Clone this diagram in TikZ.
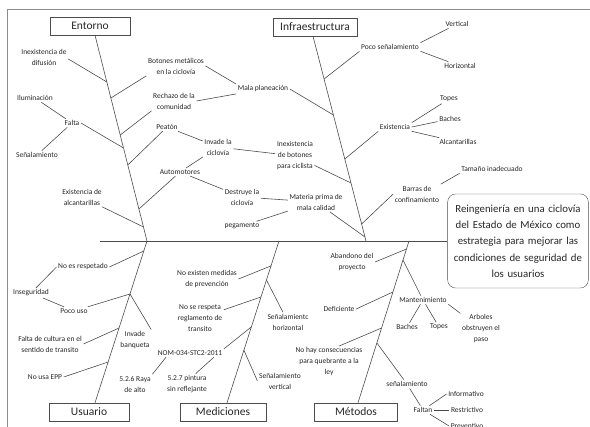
\documentclass[tikz,border=0pt]{standalone}
\usepackage{fontspec}
\setmainfont{Carlito}

\begin{document}
\begin{tikzpicture}[x=1pt, y=-1pt,
    lbl/.style={font=\fontsize{7.5}{11}\selectfont, align=center, inner sep=1.5pt, text=black!85},
    catbox/.style={draw=black!70, font=\fontsize{11.5}{13}\selectfont, minimum width=80pt, minimum height=18pt, inner sep=2pt, text=black!85},
    goal/.style={draw=black!70, rounded corners=8pt, align=center, font=\fontsize{10.8}{16.3}\selectfont, minimum width=140pt, minimum height=94pt, text width=134pt, text=black!85},
    ln/.style={draw=black!70, line width=0.6pt}]
\useasboundingbox (0,0) rectangle (590,427);
\draw[black!45, line width=0.8pt] (7,440) -- (7,9) -- (600,9);

\node[catbox] (entorno) at (90,26) {Entorno};
\node[catbox, minimum width=84pt] (infra) at (315,27) {Infraestructura};
\node[catbox] (usuario) at (89,412) {Usuario};
\node[catbox, minimum width=86pt] (medic) at (223,412) {Mediciones};
\node[catbox, minimum width=83pt] (metod) at (356,412) {Métodos};
\node[goal] (meta) at (518,241) {Reingeniería en una ciclovía\\del Estado de México como\\estrategia para mejorar las\\condiciones de seguridad de\\los usuarios};

% spine and bones
\coordinate (cola) at (100,241);
\coordinate (jE) at (147,241);
\coordinate (jI) at (366,241);
\coordinate (jM) at (279,241);
\coordinate (jT) at (409,241);
\draw[ln] (cola) -- (meta.west);
\draw[ln] (jE) -- ([xshift=5pt]entorno.south);
\draw[ln] (jI) -- ([xshift=-2pt]infra.south);
\draw[ln] (jE) -- ([xshift=6pt]usuario.north);
\draw[ln] (jM) -- ([xshift=4pt]medic.north);
\draw[ln] (jT) -- ([xshift=2pt]metod.north);

% points on the bones
\coordinate (e1) at (106.9,82);  \coordinate (e2) at (110.9,98);
\coordinate (e3) at (120.2,135); \coordinate (e4) at (123.5,148);
\coordinate (e5) at (127.8,165); \coordinate (e6) at (138.9,209);
\coordinate (e7) at (143.5,227);
\coordinate (i1) at (324.1,79);  \coordinate (i2) at (333.4,115);
\coordinate (i3) at (344.8,159); \coordinate (i4) at (351,183);
\coordinate (i5) at (361.6,224); \coordinate (i6) at (365,237);
\coordinate (u1) at (143.8,251); \coordinate (u2) at (130,294);
\coordinate (u3) at (119.1,328); \coordinate (u4) at (108.2,362);
\coordinate (m1) at (270.9,266); \coordinate (m2) at (266.4,280);
\coordinate (m3) at (260.9,297); \coordinate (m4) at (251.2,327);
\coordinate (m5) at (243.8,350);
\coordinate (t1) at (406.5,249); \coordinate (t2) at (403,260);
\coordinate (t3) at (392.9,292); \coordinate (t4) at (381.6,328);
\coordinate (t5) at (376.9,343);

% Entorno
\node[lbl] (inexD) at (44,57) {Inexistencia de\\difusión};
\node[lbl] (botones) at (176,66) {Botones metálicos\\en la ciclovía};
\node[lbl] (rechazo) at (174,101) {Rechazo de la\\comunidad};
\node[lbl] (mala) at (263,89) {Mala planeación};
\node[lbl] (ilum) at (35,98) {Iluminación};
\node[lbl] (falta) at (72,123) {Falta};
\node[lbl] (senal) at (37,155) {Señalamiento};
\node[lbl] (peaton) at (167,127) {Peatón};
\node[lbl] (invC) at (218,147) {Invade la\\ciclovía};
\node[lbl] (autom) at (180,172) {Automotores};
\node[lbl] (destr) at (242,197) {Destruye la\\ciclovía};
\node[lbl] (exAlc) at (82,197) {Existencia de\\alcantarillas};
\node[lbl] (inexB) at (295,156) {Inexistencia\\de botones\\para ciclista};
\node[lbl] (mater) at (316,202) {Materia prima de\\mala calidad};
\node[lbl] (pegam) at (242,226) {pegamento};
\draw[ln] ([yshift=-2pt]inexD.east) -- (e1);
\draw[ln] (botones.south west) -- (e2);
\draw[ln] (botones.east) -- (mala.north west);
\draw[ln] (rechazo.south west) -- (e3);
\draw[ln] (rechazo.east) -- (mala.south west);
\draw[ln] (mala.east) -- (i2);
\draw[ln] (ilum) -- (falta);
\draw[ln] (senal) -- (falta);
\draw[ln] (falta.east) -- (e4);
\draw[ln] (peaton) -- (e5);
\draw[ln] (peaton) -- (invC);
\draw[ln] (invC) -- (autom);
\draw[ln] (invC) -- (inexB);
\draw[ln] (inexB) -- (i4);
\draw[ln] (autom) -- (e6);
\draw[ln] (autom) -- (destr);
\draw[ln] (destr) -- (mater);
\draw[ln] (pegam) -- (mater);
\draw[ln] (mater) -- (i6);
\draw[ln] (exAlc) -- (e7);

% Infraestructura
\node[lbl] (poco) at (390,47) {Poco señalamiento};
\node[lbl] (vert) at (457,24) {Vertical};
\node[lbl] (horiz) at (460,66) {Horizontal};
\node[lbl] (exis) at (395,127) {Existencia};
\node[lbl] (topes) at (449,99) {Topes};
\node[lbl] (baches) at (450,119) {Baches};
\node[lbl] (alcan) at (458,142) {Alcantarillas};
\node[lbl] (barras) at (417,194) {Barras de\\confinamiento};
\node[lbl] (tamano) at (492,169) {Tamaño inadecuado};
\draw[ln] (poco.south west) -- (i1);
\draw[ln] (poco.north east) -- (vert);
\draw[ln] (poco.south east) -- (horiz);
\draw[ln] (exis.south west) -- (i3);
\draw[ln] (exis.north east) -- (topes);
\draw[ln] (exis.east) -- (baches);
\draw[ln] (exis.south east) -- (alcan);
\draw[ln] (barras.west) -- (i5);
\draw[ln] (barras.north east) -- (tamano.south west);

% Usuario
\node[lbl] (noes) at (83,267) {No es respetado};
\node[lbl] (inseg) at (31,293) {Inseguridad};
\node[lbl] (pocoU) at (74,311) {Poco uso};
\node[lbl] (invB) at (135,340) {Invade\\banqueta};
\node[lbl] (cult) at (50,344) {Falta de cultura en el\\sentido de transito};
\node[lbl] (epp) at (45,377) {No usa EPP};
\draw[ln] (noes.east) -- (u1);
\draw[ln] (noes.west) -- (inseg);
\draw[ln] (inseg) -- (pocoU);
\draw[ln] (pocoU) -- (u2);
\draw[ln] (u2) -- (invB.north east);
\draw[ln] (cult.east) -- (u3);
\draw[ln] (epp.east) -- (u4);

% Mediciones
\node[lbl] (noex) at (207,279) {No existen medidas\\de prevención};
\node[lbl] (shor) at (288,322) {Señalamientc\\horizontal};
\node[lbl] (nores) at (200,318) {No se respeta\\reglamento de\\transito};
\node[lbl] (nom) at (190,353) {NOM-034-STC2-2011};
\node[lbl] (r526) at (135,384) {5.2.6 Raya\\de alto};
\node[lbl] (r527) at (187,384) {5.2.7 pintura\\sin reflejante};
\node[lbl] (sver) at (280,381) {Señalamiento\\vertical};
\draw[ln] (noex.east) -- (m1);
\draw[ln] (m2) -- (shor);
\draw[ln] (nores) -- (m3);
\draw[ln] (nom.north east) -- (m4);
\draw[ln] ([xshift=10pt]nom.south west) -- (r526.north east);
\draw[ln] ([xshift=-10pt]nom.south east) -- (r527.50);
\draw[ln] (m5) -- (sver.west);

% Metodos
\node[lbl] (aband) at (352,262) {Abandono del\\proyecto};
\node[lbl] (mant) at (423,300) {Mantenimiento};
\node[lbl] (bachM) at (407,327) {Baches};
\node[lbl] (topM) at (439,327) {Topes};
\node[lbl] (arbol) at (481,329) {Arboles\\obstruyen el\\paso};
\node[lbl] (defic) at (339,309) {Deficiente};
\node[lbl] (nohay) at (329,362) {No hay consecuencias\\para quebrante a la\\ley};
\node[lbl] (senM) at (407,384) {señalamiento};
\node[lbl] (faltan) at (423,410) {Faltan};
\node[lbl] (inform) at (466,394) {Informativo};
\node[lbl] (restr) at (467,410) {Restrictivo};
\node[lbl] (prev) at (467,426) {Preventivo};
\draw[ln] (aband.east) -- (t1);
\draw[ln] (t2) -- (mant);
\draw[ln] (mant) -- (bachM);
\draw[ln] (mant) -- (topM);
\draw[ln] (mant.south east) -- (arbol);
\draw[ln] (defic.east) -- (t3);
\draw[ln] ([xshift=10pt]nohay.north) -- (t4);
\draw[ln] (t5) -- (senM);
\draw[ln] (senM) -- (faltan);
\draw[ln] (faltan) -- (inform.west);
\draw[ln] (faltan.east) -- (restr.west);
\draw[ln] (faltan) -- (prev.west);
\end{tikzpicture}
\end{document}
